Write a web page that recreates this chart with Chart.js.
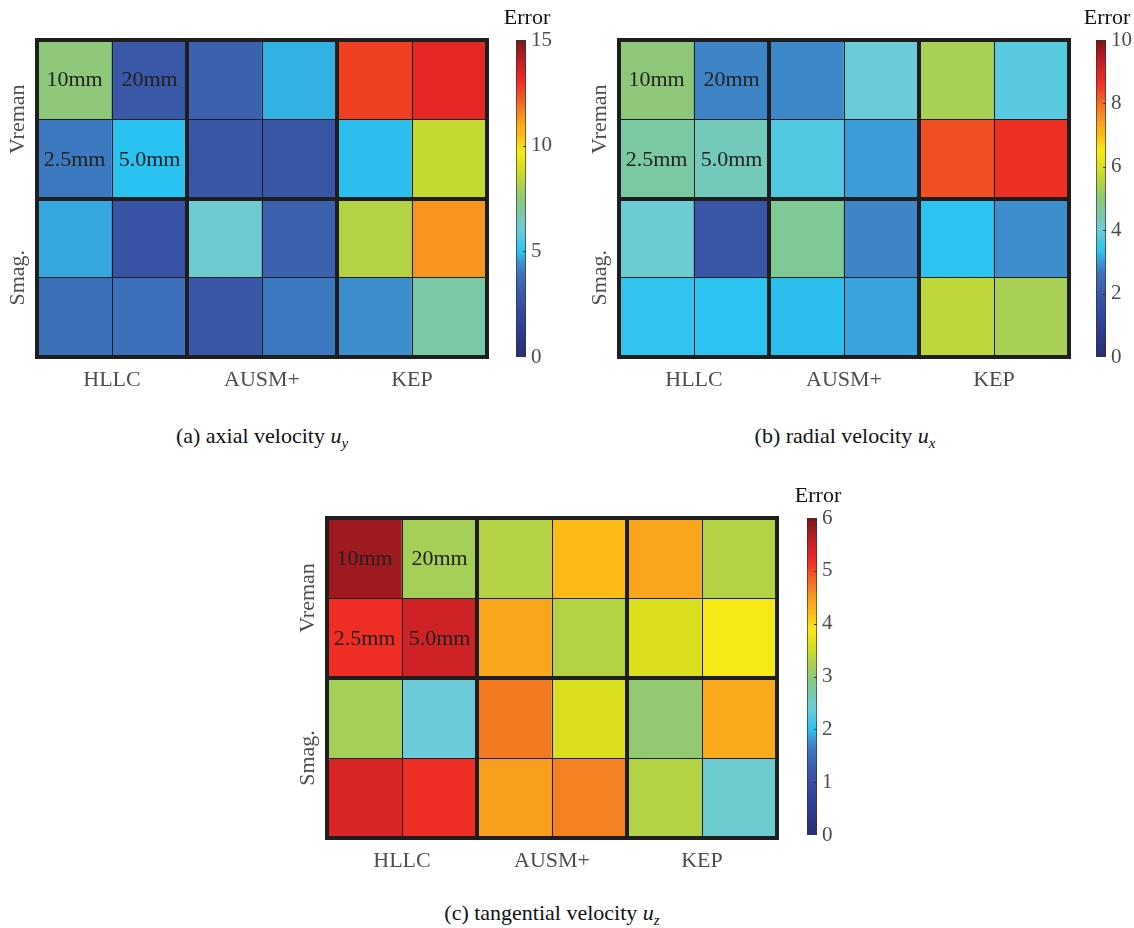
<!DOCTYPE html>
<html>
<head>
<meta charset="utf-8">
<script src="https://cdn.jsdelivr.net/npm/chart.js@4.4.1/dist/chart.umd.min.js"></script>
<style>
    body { margin: 0; background: #fff; width: 1134px; height: 928px; position: relative; overflow: hidden;
           font-family: 'Liberation Serif', serif; }
    canvas { position: absolute; }
    .caption { position: absolute; font-size: 22px; color: #111; white-space: nowrap; transform: translateX(-50%); }
    .caption i { font-style: italic; }
    .caption sub { font-size: 15px; font-style: italic; }
</style>
</head>
<body>
<canvas id="mapA" width="500" height="400" style="left:0;top:0"></canvas>
<canvas id="barA" width="60" height="400" style="left:500px;top:0"></canvas>
<canvas id="mapB" width="500" height="400" style="left:582px;top:0"></canvas>
<canvas id="barB" width="54" height="400" style="left:1080px;top:0"></canvas>
<canvas id="mapC" width="500" height="403" style="left:290px;top:478px"></canvas>
<canvas id="barC" width="60" height="403" style="left:791px;top:478px"></canvas>

<div class="caption" style="left:262px;top:423px">(a) axial velocity <i>u</i><sub>y</sub></div>
<div class="caption" style="left:845px;top:423px">(b) radial velocity <i>u</i><sub>x</sub></div>
<div class="caption" style="left:552px;top:900px">(c) tangential velocity <i>u</i><sub>z</sub></div>

<script>
// ── Data ──────────────────────────────────────────────────────────────────────

const methods    = ['HLLC', 'AUSM+', 'KEP'];
const models     = ['Vreman', 'Smag.'];
const columns    = ['HLLC 1', 'HLLC 2', 'AUSM+ 1', 'AUSM+ 2', 'KEP 1', 'KEP 2'];
const cellLabels = [['10mm', '20mm'], ['2.5mm', '5.0mm']];

// rows top to bottom: Vreman coarse, Vreman fine, Smag. coarse, Smag. fine
const axialErr = [
    [7.5, 3.0, 3.3, 4.8, 12.7, 13.3],
    [4.0, 5.0, 2.9, 2.85, 4.95, 8.6],
    [4.7, 2.7, 6.1, 3.3, 8.25, 11.3],
    [3.75, 3.8, 2.9, 4.0, 4.35, 6.75]
];
const radialErr = [
    [5.0, 2.8, 2.85, 4.0, 5.35, 3.8],
    [4.55, 4.3, 3.75, 3.05, 8.3, 8.65],
    [4.05, 1.9, 4.7, 2.8, 3.35, 2.9],
    [3.4, 3.35, 3.3, 3.1, 5.65, 5.35]
];
const tangentialErr = [
    [5.8, 3.2, 3.3, 4.2, 4.4, 3.3],
    [5.2, 5.5, 4.4, 3.3, 3.6, 3.9],
    [3.2, 2.4, 4.7, 3.6, 3.05, 4.35],
    [5.4, 5.2, 4.45, 4.65, 3.3, 2.45]
];

const axialTicks      = [0, 5, 10, 15];
const radialTicks     = [0, 2, 4, 6, 8, 10];
const tangentialTicks = [0, 1, 2, 3, 4, 5, 6];

// ── Colormap ──────────────────────────────────────────────────────────────────

const CMAP = [
    [0.00, '#2a2d74'], [0.10, '#2f3f98'], [0.20, '#3a58a8'], [0.26, '#3d73bc'],
    [0.30, '#3e95d3'], [0.333, '#2ac3f1'], [0.40, '#6ccbd8'], [0.45, '#79c9a6'],
    [0.50, '#8dc87a'], [0.55, '#b3d345'], [0.60, '#dadf1e'], [0.65, '#f8ea16'],
    [0.70, '#fdbb15'], [0.74, '#f8a21e'], [0.80, '#f36b24'], [0.87, '#ee2b24'],
    [0.93, '#c51f27'], [1.00, '#7d1419']
];
const FONT = "'Liberation Serif', 'DejaVu Serif', serif";
const LINE = '#1e1e1e';

function hexRgb(h) {
    return [1, 3, 5].map(i => parseInt(h.slice(i, i + 2), 16));
}

function colorAt(t) {
    t = Math.max(0, Math.min(1, t));
    for (let i = 1; i < CMAP.length; i++) {
        const [t1, c1] = CMAP[i];
        if (t <= t1) {
            const [t0, c0] = CMAP[i - 1];
            const f = (t - t0) / (t1 - t0);
            const a = hexRgb(c0), b = hexRgb(c1);
            const rgb = a.map((v, k) => Math.round(v + (b[k] - v) * f));
            return `rgb(${rgb.join(',')})`;
        }
    }
    return CMAP[CMAP.length - 1][1];
}

// ── Plugins ───────────────────────────────────────────────────────────────────

const mapDecor = {
    id: 'mapDecor',
    afterDraw(chart) {
        const { ctx, chartArea: a, scales: { x, y } } = chart;
        ctx.save();
        // outer frame
        ctx.strokeStyle = LINE;
        ctx.lineWidth = 4;
        ctx.strokeRect(a.left, a.top, a.right - a.left, a.bottom - a.top);

        // resolution labels in the HLLC / Vreman block
        ctx.fillStyle = '#222';
        ctx.font = `22px ${FONT}`;
        ctx.textAlign = 'center';
        ctx.textBaseline = 'middle';
        cellLabels.forEach((row, r) => row.forEach((txt, c) => {
            ctx.fillText(txt, x.getPixelForValue(c), y.getPixelForValue(r + 0.5) + 1);
        }));

        // rotated row labels
        ctx.fillStyle = '#4d4d4d';
        models.forEach((m, i) => {
            ctx.save();
            ctx.translate(a.left - 19, y.getPixelForValue(i * 2 + 1));
            ctx.rotate(-Math.PI / 2);
            ctx.fillText(m, 0, 0);
            ctx.restore();
        });
        ctx.restore();
    }
};

const barDecor = {
    id: 'barDecor',
    afterDraw(chart) {
        const { ctx, chartArea: a, scales: { y } } = chart;
        ctx.save();
        ctx.strokeStyle = '#333';
        ctx.lineWidth = 1;
        y.ticks.slice(1, -1).forEach(t => {
            const py = Math.round(y.getPixelForValue(t.value)) + 0.5;
            ctx.beginPath();
            ctx.moveTo(a.right - 3, py);
            ctx.lineTo(a.right, py);
            ctx.stroke();
        });
        ctx.fillStyle = '#111';
        ctx.font = `22px ${FONT}`;
        ctx.textAlign = 'center';
        ctx.textBaseline = 'middle';
        ctx.fillText('Error', (a.left + a.right) / 2 + 6, a.top - 22);
        ctx.restore();
    }
};

// ── Charts ────────────────────────────────────────────────────────────────────

function heatmap(id, rows, vmax) {
    const datasets = rows.map((vals, r) => ({
        data: vals.map(() => [r, r + 1]),
        backgroundColor: vals.map(v => colorAt(v / vmax)),
        borderWidth: 0,
        grouped: false,
        barPercentage: 1,
        categoryPercentage: 1
    }));
    const thick = ctx => (ctx.index === undefined || ctx.index % 2 === 0) ? 4 : 1;

    return new Chart(document.getElementById(id), {
        type: 'bar',
        data: { labels: columns, datasets },
        options: {
            responsive: false, animation: false,
            layout: { padding: { top: 40, right: 13, left: 0, bottom: 0 } },
            plugins: { legend: { display: false }, tooltip: { enabled: false } },
            scales: {
                x: {
                    grid: { z: 1, offset: true, color: LINE, lineWidth: thick, drawTicks: false },
                    border: { display: false },
                    ticks: { display: false },
                    afterFit: s => { s.height = 0; }
                },
                xg: {
                    type: 'category', labels: methods, offset: true, position: 'bottom',
                    grid: { display: false, drawTicks: false },
                    border: { display: false },
                    ticks: { color: '#4d4d4d', font: { family: FONT, size: 22 }, padding: 10 },
                    afterFit: s => { s.height = 43; }
                },
                y: {
                    min: 0, max: 4, reverse: true,
                    grid: { z: 1, color: LINE, lineWidth: thick, drawTicks: false },
                    border: { display: false },
                    ticks: { display: false, stepSize: 1 },
                    afterFit: s => { s.width = 37; }
                }
            }
        },
        plugins: [mapDecor]
    });
}

function colorbar(id, vmax, ticks) {
    const canvas = document.getElementById(id);
    return new Chart(canvas, {
        type: 'bar',
        data: {
            labels: ['Error'],
            datasets: [{
                data: [[0, vmax]],
                backgroundColor: ctx => {
                    const a = ctx.chart.chartArea;
                    if (!a) return '#888';
                    const g = ctx.chart.ctx.createLinearGradient(0, a.bottom, 0, a.top);
                    CMAP.forEach(([t, c]) => g.addColorStop(t, c));
                    return g;
                },
                borderColor: '#333', borderWidth: 1, borderSkipped: false,
                barPercentage: 1, categoryPercentage: 1
            }]
        },
        options: {
            responsive: false, animation: false,
            layout: { padding: { top: 40, left: 16, bottom: canvas.height - 357, right: 0 } },
            plugins: { legend: { display: false }, tooltip: { enabled: false } },
            scales: {
                x: { display: false },
                y: {
                    position: 'right', min: 0, max: vmax,
                    afterBuildTicks: s => { s.ticks = ticks.map(v => ({ value: v })); },
                    grid: { display: false, drawTicks: false },
                    border: { display: false },
                    ticks: { color: '#4d4d4d', font: { family: FONT, size: 21 }, padding: 5 },
                    afterFit: s => { s.width = canvas.width - 16 - 10; }
                }
            }
        },
        plugins: [barDecor]
    });
}

heatmap('mapA', axialErr, 15);
heatmap('mapB', radialErr, 10);
heatmap('mapC', tangentialErr, 6);
colorbar('barA', 15, axialTicks);
colorbar('barB', 10, radialTicks);
colorbar('barC', 6, tangentialTicks);
</script>
</body>
</html>
